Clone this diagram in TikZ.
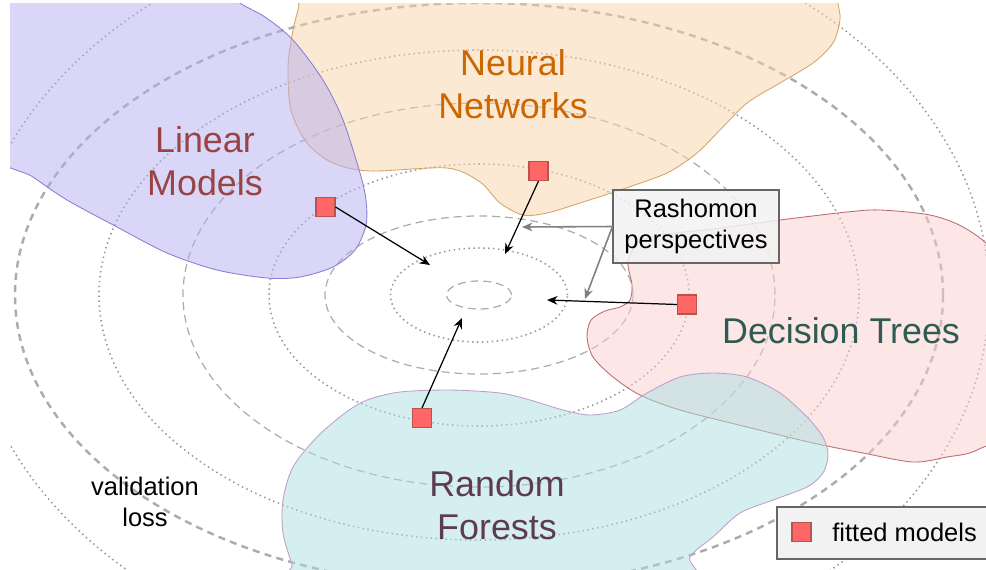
\documentclass[tikz,border=0pt]{standalone}
\usepackage{fontspec}
\setmainfont{Liberation Sans}
\usetikzlibrary{arrows.meta}

\definecolor{ringgray}{RGB}{172,172,172}
\definecolor{dotgray}{RGB}{150,150,150}
\definecolor{lmfill}{RGB}{181,173,239}
\definecolor{lmdraw}{RGB}{140,128,210}
\definecolor{lmtext}{RGB}{153,68,68}
\definecolor{nnfill}{RGB}{249,211,169}
\definecolor{nndraw}{RGB}{214,165,108}
\definecolor{nntext}{RGB}{204,102,0}
\definecolor{dtfill}{RGB}{251,205,205}
\definecolor{dtdraw}{RGB}{190,110,110}
\definecolor{dttext}{RGB}{47,91,82}
\definecolor{rffill}{RGB}{171,223,225}
\definecolor{rfdraw}{RGB}{190,160,200}
\definecolor{rftext}{RGB}{94,58,85}
\definecolor{fitfill}{RGB}{255,102,102}
\definecolor{fitdraw}{RGB}{184,84,80}
\definecolor{boxfill}{RGB}{242,242,242}
\definecolor{boxdraw}{RGB}{102,102,102}

\begin{document}
\begin{tikzpicture}[x=0.2mm, y=-0.2mm,
    ringdash/.style={draw=ringgray, line width=0.7pt, dash pattern=on 4.5pt off 2.8pt},
    ringdot/.style={draw=dotgray, line width=0.9pt, dash pattern=on 0.8pt off 2pt},
    ringthick/.style={draw=ringgray, line width=1.4pt, dash pattern=on 4pt off 3pt},
    blob/.style={line width=0.5pt, fill opacity=0.5},
    blobtext/.style={font=\fontsize{20.4}{24.4}\selectfont, align=center},
    smalltext/.style={font=\fontsize{14.5}{18}\selectfont, align=center},
    fitted/.style={draw=fitdraw, fill=fitfill, line width=0.6pt, minimum size=3.8mm, inner sep=0pt},
    fitarrow/.style={-{Stealth[length=6pt, width=5pt, inset=2pt]}, line width=0.7pt},
    rasharrow/.style={-{Stealth[length=6pt, width=5pt, inset=2pt]}, draw=gray, line width=0.9pt}]

    \useasboundingbox (0,0) rectangle (986,569);
    \begin{scope}
    \clip (10,3) rectangle (986,569);

    % validation loss rings
    \draw[ringdash] (479,295) ellipse [x radius=6.5mm, y radius=2.8mm];
    \draw[ringdot] (479,295) ellipse [x radius=17.7mm, y radius=9.4mm];
    \draw[ringdash] (479,295) ellipse [x radius=30.8mm, y radius=15.8mm];
    \draw[ringdot] (479,295) ellipse [x radius=42mm, y radius=26.2mm];
    \draw[ringdash] (479,295) ellipse [x radius=59.2mm, y radius=38.4mm];
    \draw[ringdot] (479,295) ellipse [x radius=76mm, y radius=49mm];
    \draw[ringthick] (479,295) ellipse [x radius=92.8mm, y radius=58.4mm];
    \draw[ringdot] (479,295) ellipse [x radius=102mm, y radius=76mm];

    % model classes
    \draw[blob, draw=nndraw, fill=nnfill] plot[smooth cycle, tension=0.5] coordinates {(301,-20) (299,5) (293,30) (288,67) (291,110) (307,143) (333,163) (370,171) (447,168) (480,182) (500,203) (523,215) (547,213) (580,203) (620,190) (667,173) (697,153) (720,130) (747,103) (780,83) (813,63) (833,43) (840,20) (838,3) (836,-20) (560,-30)};
    \draw[blob, draw=lmdraw, fill=lmfill] plot[smooth cycle, tension=0.5] coordinates {(-20,-20) (-20,140) (33,177) (67,200) (117,227) (167,253) (217,270) (267,278) (300,277) (333,267) (355,250) (366,225) (366,200) (360,173) (343,120) (323,80) (293,40) (265,17) (240,3) (212,-20) (100,-30)};
    \draw[blob, draw=dtdraw, fill=dtfill] plot[smooth cycle, tension=0.5] coordinates {(632,285) (628,262) (638,243) (660,235) (713,229) (780,220) (847,212) (880,210) (930,215) (963,227) (992,250) (1015,300) (1015,420) (977,450) (947,457) (913,462) (863,453) (813,443) (747,427) (680,410) (640,395) (613,377) (593,357) (587,337) (591,320) (605,311) (620,307) (630,300)};
    \draw[blob, draw=rfdraw, fill=rffill] plot[smooth cycle, tension=0.5] coordinates {(283,533) (283,500) (293,467) (317,437) (345,413) (367,400) (400,392) (450,390) (500,393) (530,400) (563,410) (590,415) (620,410) (647,393) (680,377) (713,373) (747,377) (780,393) (807,417) (823,437) (828,455) (823,473) (807,487) (773,500) (740,513) (713,537) (690,557) (675,595) (300,595) (292,565)};

    \node[draw=boxdraw, fill=boxfill, fill opacity=0.85, text opacity=1, smalltext, line width=0.6pt, minimum width=33.2mm, minimum height=14.6mm, inner sep=0pt] (rash) at (696,226.5) {Rashomon\\perspectives};

    \node[blobtext, text=lmtext] (lm) at (205,161) {Linear\\Models};
    \node[blobtext, text=nntext] (nn) at (513,84) {Neural\\Networks};
    \node[blobtext, text=dttext] (dt) at (841,331) {Decision Trees};
    \node[blobtext, text=rftext] (rf) at (497,505) {Random\\Forests};
    \node[smalltext] (loss) at (145,502) {validation\\loss};

    % fitted models and where they point
    \node[fitted] (fLM) at (325.5,207) {};
    \node[fitted] (fNN) at (538.5,171) {};
    \node[fitted] (fDT) at (687,304.5) {};
    \node[fitted] (fRF) at (422,418) {};
    \coordinate (pLM) at (430,265);
    \coordinate (pNN) at (505,254);
    \coordinate (pDT) at (547,300);
    \coordinate (pRF) at (462,318);
    \coordinate (qNN) at (522,227);
    \coordinate (qDT) at (585,299);

    \draw[fitarrow] (fLM.east) -- (pLM);
    \draw[fitarrow] (fNN.south) -- (pNN);
    \draw[fitarrow] (fDT.west) -- (pDT);
    \draw[fitarrow] (fRF.north) -- (pRF);
    \draw[rasharrow] (rash.west) -- (qNN);
    \draw[rasharrow] (rash.west) -- (qDT);

    % legend
    \draw[draw=boxdraw, fill=boxfill, line width=0.6pt] (777,507) rectangle (1000,559);
    \node[fitted] (key) at (801.5,532) {};
    \node[smalltext, anchor=west, inner sep=0pt] (keytext) at (832,532) {fitted models};
    \end{scope}
\end{tikzpicture}
\end{document}
